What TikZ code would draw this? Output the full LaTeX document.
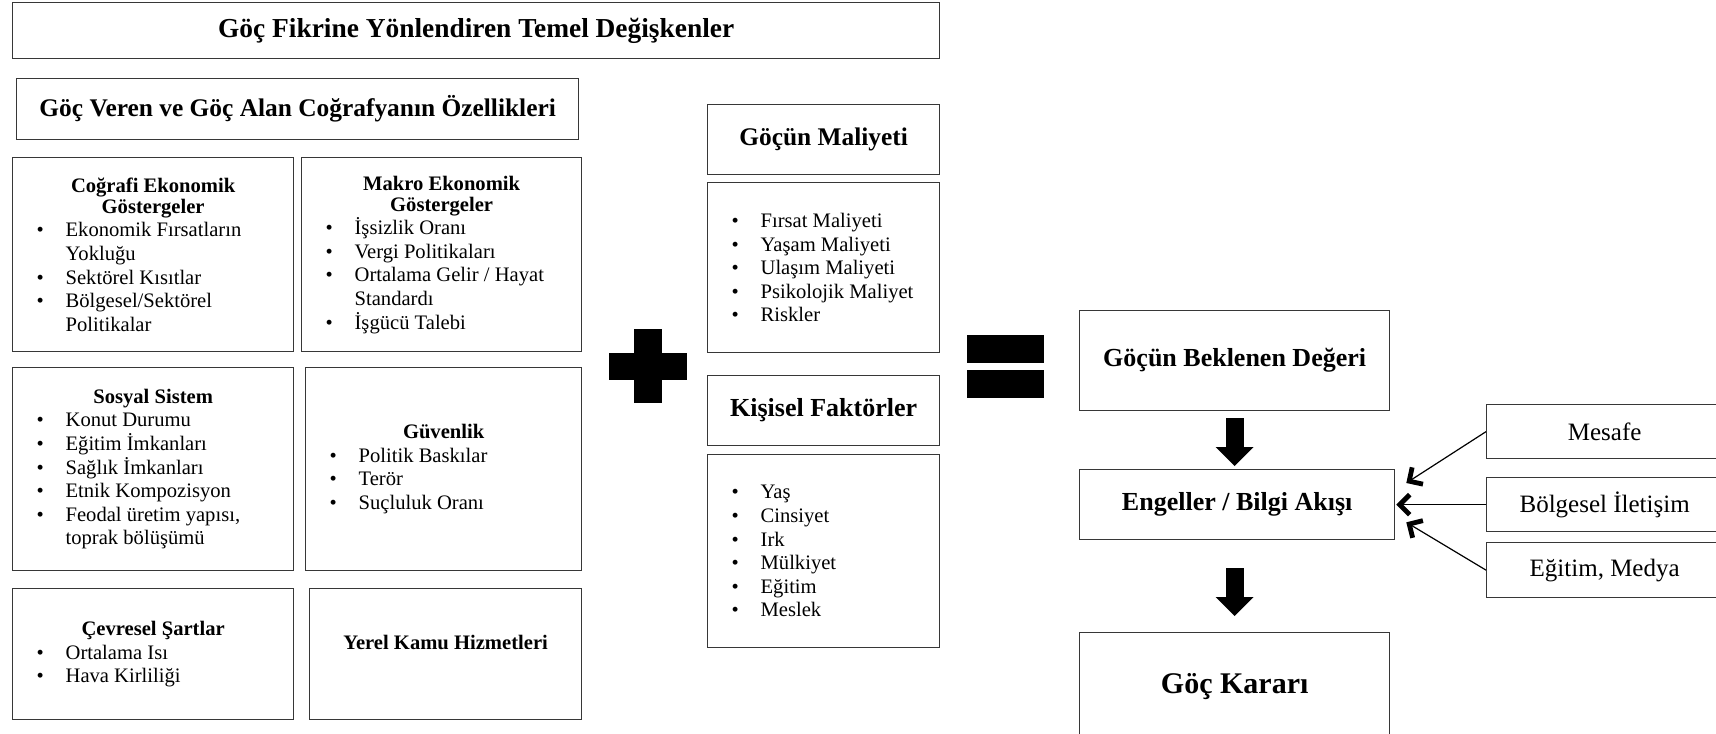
\documentclass[tikz,border=0pt]{standalone}
\usepackage{fontspec}
\setmainfont{Liberation Serif}
\usepackage{tikz}
\usetikzlibrary{
  arrows.meta,
  positioning
}
\definecolor{frame}{RGB}{55,55,55}
\newcommand{\itm}[1]{\par\noindent\hspace*{12pt}\makebox[14.5pt][l]{\textbullet}#1}
\newcommand{\itmc}[1]{\par\noindent\hspace*{26.5pt}#1}
\newcommand{\hd}[1]{{\centering\fontsize{10.3}{10.5}\selectfont\bfseries #1\par}}

\begin{document}
\begin{tikzpicture}[x=0.5pt, y=-0.5pt,
    every node/.style={font=\fontsize{10.3}{11.8}\selectfont},
    frm/.style={draw=frame, line width=0.65pt, inner sep=0pt, anchor=north west},
    big/.style={frm, font=\fontsize{13}{15}\selectfont\bfseries},
    side/.style={frm, font=\fontsize{12.5}{14}\selectfont},
    blockarrow/.style={line width=9pt, -{Triangle[length=9.5pt, width=19pt, line width=0pt]}},
    thinarrow/.style={line width=0.6pt, -{Straight Barb[length=5pt, width=10pt, line width=2.4pt 0]}}]
    \useasboundingbox (0,0) rectangle (1716,733);
    \clip (0,0) rectangle (1716,733);

    % Headers
    \node[big, minimum width=463.5pt, minimum height=28pt, font=\fontsize{13.7}{15}\selectfont\bfseries] (title) at (12,2) {Göç Fikrine Yönlendiren Temel Değişkenler};
    \node[big, minimum width=281pt, minimum height=30.5pt, font=\fontsize{12.7}{15}\selectfont\bfseries] (geo) at (16,78) {Göç Veren ve Göç Alan Coğrafyanın Özellikleri};

    % Characteristics of the regions
    \node[frm, minimum width=140.5pt, minimum height=97pt] (cog) at (12,157) {\begin{minipage}{140.5pt}
      \hd{Coğrafi Ekonomik\\Göstergeler}
      \itm{Ekonomik Fırsatların}\itmc{Yokluğu}
      \itm{Sektörel Kısıtlar}
      \itm{Bölgesel/Sektörel}\itmc{Politikalar}
    \end{minipage}};
    \node[frm, minimum width=140pt, minimum height=97pt] (mak) at (301,157) {\begin{minipage}{140pt}
      \hd{Makro Ekonomik\\Göstergeler}
      \itm{İşsizlik Oranı}
      \itm{Vergi Politikaları}
      \itm{Ortalama Gelir / Hayat}\itmc{Standardı}
      \itm{İşgücü Talebi}
    \end{minipage}};
    \node[frm, minimum width=140.5pt, minimum height=101.5pt] (sos) at (12,367) {\begin{minipage}{140.5pt}
      \hd{Sosyal Sistem}
      \itm{Konut Durumu}
      \itm{Eğitim İmkanları}
      \itm{Sağlık İmkanları}
      \itm{Etnik Kompozisyon}
      \itm{Feodal üretim yapısı,}\itmc{toprak bölüşümü}
    \end{minipage}};
    \node[frm, minimum width=138pt, minimum height=101.5pt] (guv) at (305,367) {\begin{minipage}{138pt}
      \hd{Güvenlik}
      \itm{Politik Baskılar}
      \itm{Terör}
      \itm{Suçluluk Oranı}
    \end{minipage}};
    \node[frm, minimum width=140.5pt, minimum height=65.5pt] (cev) at (12,588) {\begin{minipage}{140.5pt}
      \hd{Çevresel Şartlar}
      \itm{Ortalama Isı}
      \itm{Hava Kirliliği}
    \end{minipage}};
    \node[frm, minimum width=136pt, minimum height=65.5pt, text depth=12pt, font=\fontsize{10.3}{11.8}\selectfont\bfseries] (yer) at (309,588) {Yerel Kamu Hizmetleri};

    % Plus sign
    \fill (609,353) rectangle (687,380);
    \fill (634,329) rectangle (662,403);

    % Costs and personal factors
    \node[big, minimum width=116pt, minimum height=35pt, font=\fontsize{12.7}{15}\selectfont\bfseries] (malT) at (707,104) {Göçün Maliyeti};
    \node[frm, minimum width=116pt, minimum height=85pt] (malL) at (707,182) {\begin{minipage}{116pt}
      \itm{Fırsat Maliyeti}
      \itm{Yaşam Maliyeti}
      \itm{Ulaşım Maliyeti}
      \itm{Psikolojik Maliyet}
      \itm{Riskler}
    \end{minipage}};
    \node[big, minimum width=116pt, minimum height=35pt] (kisT) at (707,375) {Kişisel Faktörler};
    \node[frm, minimum width=116pt, minimum height=96.5pt] (kisL) at (707,454) {\begin{minipage}{116pt}
      \itm{Yaş}
      \itm{Cinsiyet}
      \itm{Irk}
      \itm{Mülkiyet}
      \itm{Eğitim}
      \itm{Meslek}
    \end{minipage}};

    % Equals sign
    \fill (967,335) rectangle (1044,363);
    \fill (967,370) rectangle (1044,398);

    % Decision chain
    \node[big, minimum width=155pt, minimum height=50pt] (bekl) at (1079,310) {Göçün Beklenen Değeri};
    \node[big, minimum width=157.5pt, minimum height=35pt] (eng) at (1079,469) {Engeller / Bilgi Akışı};
    \node[big, minimum width=155pt, minimum height=54pt, font=\fontsize{15}{17}\selectfont\bfseries] (karar) at (1079,632) {Göç Kararı};
    \coordinate (a1) at (bekl.south |- eng.north);
    \coordinate (a2) at (karar.north |- eng.south);
    \draw[blockarrow] ([yshift=-3.5pt]bekl.south) -- ([yshift=1.5pt]a1);
    \draw[blockarrow] ([yshift=-14pt]a2) -- ([yshift=8pt]karar.north);

    % Side factors
    \node[side, minimum width=118pt, minimum height=27pt] (mes) at (1486,404) {Mesafe};
    \node[side, minimum width=118pt, minimum height=27pt] (bol) at (1486,477) {Bölgesel İletişim};
    \node[side, minimum width=118pt, minimum height=27.5pt] (egm) at (1486,542) {Eğitim, Medya};
    \draw[thinarrow] (mes.west) -- ([xshift=5.5pt, yshift=-7pt]eng.north east);
    \draw[thinarrow] (bol.west) -- ([xshift=0.5pt]eng.east);
    \draw[thinarrow] (egm.west) -- ([xshift=5.5pt, yshift=9pt]eng.south east);
\end{tikzpicture}
\end{document}
